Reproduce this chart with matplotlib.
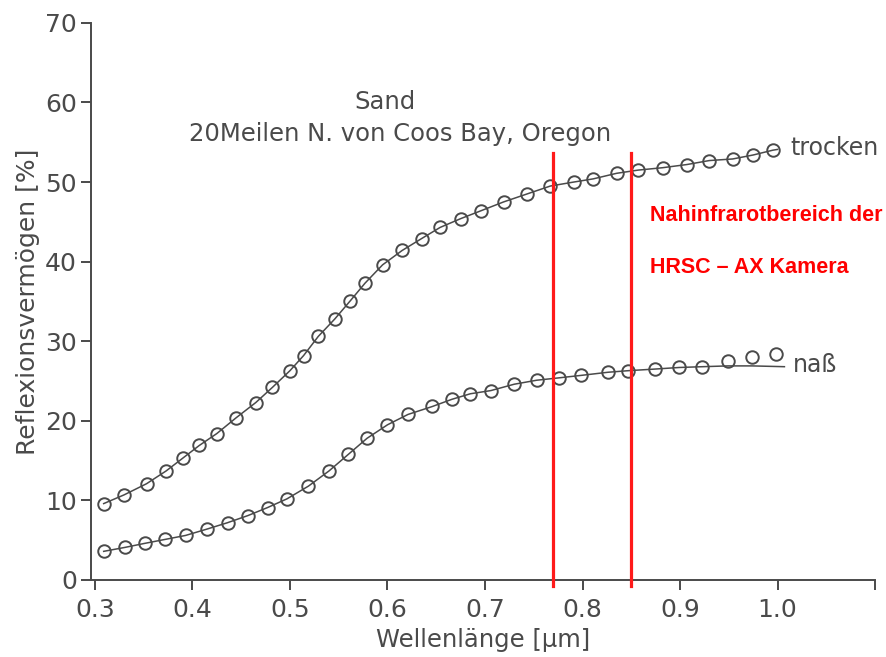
import matplotlib
matplotlib.use("Agg")
import matplotlib.pyplot as plt

# ---- data ----
trocken_x = [0.309, 0.330, 0.353, 0.373, 0.390, 0.407, 0.425, 0.445, 0.465, 0.482,
             0.500, 0.514, 0.529, 0.546, 0.562, 0.577, 0.595, 0.615, 0.635, 0.654,
             0.675, 0.696, 0.719, 0.743, 0.767, 0.791, 0.811, 0.835, 0.857, 0.882,
             0.907, 0.930, 0.954, 0.975, 0.995]
trocken_y = [9.6, 10.7, 12.1, 13.7, 15.3, 16.9, 18.4, 20.4, 22.3, 24.2,
             26.3, 28.2, 30.6, 32.8, 35.1, 37.3, 39.6, 41.4, 42.9, 44.3,
             45.4, 46.4, 47.5, 48.5, 49.5, 50.0, 50.4, 51.1, 51.5, 51.8,
             52.2, 52.7, 52.9, 53.4, 54.0]
trocken_line_end_x = [1.0]
trocken_line_end_y = [54.1]

nass_x = [0.309, 0.331, 0.351, 0.372, 0.393, 0.415, 0.436, 0.457, 0.477, 0.497,
          0.519, 0.540, 0.560, 0.579, 0.600, 0.621, 0.646, 0.666, 0.685, 0.706,
          0.730, 0.753, 0.776, 0.798, 0.826, 0.847, 0.874, 0.899, 0.923, 0.949,
          0.974, 0.998]
nass_y = [3.6, 4.1, 4.6, 5.1, 5.6, 6.4, 7.2, 8.1, 9.1, 10.2,
          11.8, 13.7, 15.8, 17.8, 19.5, 20.8, 21.8, 22.7, 23.4, 23.8,
          24.6, 25.1, 25.4, 25.7, 26.1, 26.3, 26.5, 26.7, 26.8, 27.5,
          28.0, 28.4]
# fitted curve continues flat where the last three circles rise above it
nass_fit_tail_x = [0.949, 0.974, 1.007]
nass_fit_tail_y = [26.9, 26.9, 26.8]
n_on_curve = 29

band_x = [0.77, 0.85]
band_top = 53.6

x_ticks = [0.3, 0.4, 0.5, 0.6, 0.7, 0.8, 0.9, 1.0, 1.1]
x_tick_labels = ["0.3", "0.4", "0.5", "0.6", "0.7", "0.8", "0.9", "1.0", ""]
y_ticks = [0, 10, 20, 30, 40, 50, 60, 70]

ink = "#4a4a4a"
plt.rcParams['font.family'] = ['DejaVu Sans']

fig = plt.figure(figsize=(8.87, 6.57), dpi=100)
ax = fig.add_axes([0.1026, 0.1172, 0.884, 0.848])

ax.set_xlim(0.296, 1.1)
ax.set_ylim(0, 70)

# curves
ax.plot(trocken_x + trocken_line_end_x, trocken_y + trocken_line_end_y,
        color=ink, lw=1.1, zorder=2)
ax.plot(trocken_x, trocken_y, linestyle='none', marker='o', ms=9,
        mfc='none', mec=ink, mew=1.4, zorder=3)

ax.plot(nass_x[:n_on_curve] + nass_fit_tail_x, nass_y[:n_on_curve] + nass_fit_tail_y,
        color=ink, lw=1.1, zorder=2)
ax.plot(nass_x, nass_y, linestyle='none', marker='o', ms=9,
        mfc='none', mec=ink, mew=1.4, zorder=3)

# red band lines
for bx in band_x:
    ax.plot([bx, bx], [-0.7, band_top], color='#ff1a1a', lw=2.3,
            clip_on=False, zorder=4)

ax.text(0.869, 45.8, "Nahinfrarotbereich der", color='#ff0000',
        fontsize=15.5, fontweight='bold', family=['Liberation Sans'],
        ha='left', va='center')
ax.text(0.869, 39.3, "HRSC \u2013 AX Kamera", color='#ff0000',
        fontsize=15.5, fontweight='bold', family=['Liberation Sans'],
        ha='left', va='center')

# curve labels
ax.text(1.013, 54.3, "trocken", color=ink, fontsize=17, ha='left', va='center')
ax.text(1.016, 27.0, "naß", color=ink, fontsize=17, ha='left', va='center')

# title inside plot
ax.text(0.597, 60.1, "Sand", color=ink, fontsize=17.5, ha='center', va='center')
ax.text(0.613, 56.0, "20Meilen N. von Coos Bay, Oregon", color=ink,
        fontsize=17.5, ha='center', va='center')

# axes styling
for s in ['top', 'right']:
    ax.spines[s].set_visible(False)
for s in ['left', 'bottom']:
    ax.spines[s].set_color(ink)
    ax.spines[s].set_linewidth(1.4)

ax.set_xticks(x_ticks)
ax.set_xticklabels(x_tick_labels)
ax.set_yticks(y_ticks)
ax.tick_params(axis='both', direction='out', length=7, width=1.4,
               color=ink, labelcolor=ink, labelsize=18)
ax.tick_params(axis='x', pad=6)
ax.tick_params(axis='y', pad=3)

ax.set_xlabel("Wellenlänge [µm]", color=ink, fontsize=17.5, labelpad=4)
ax.set_ylabel("Reflexionsvermögen [%]", color=ink, fontsize=18, labelpad=4)

fig.savefig("out.png", dpi=100, facecolor='white')
